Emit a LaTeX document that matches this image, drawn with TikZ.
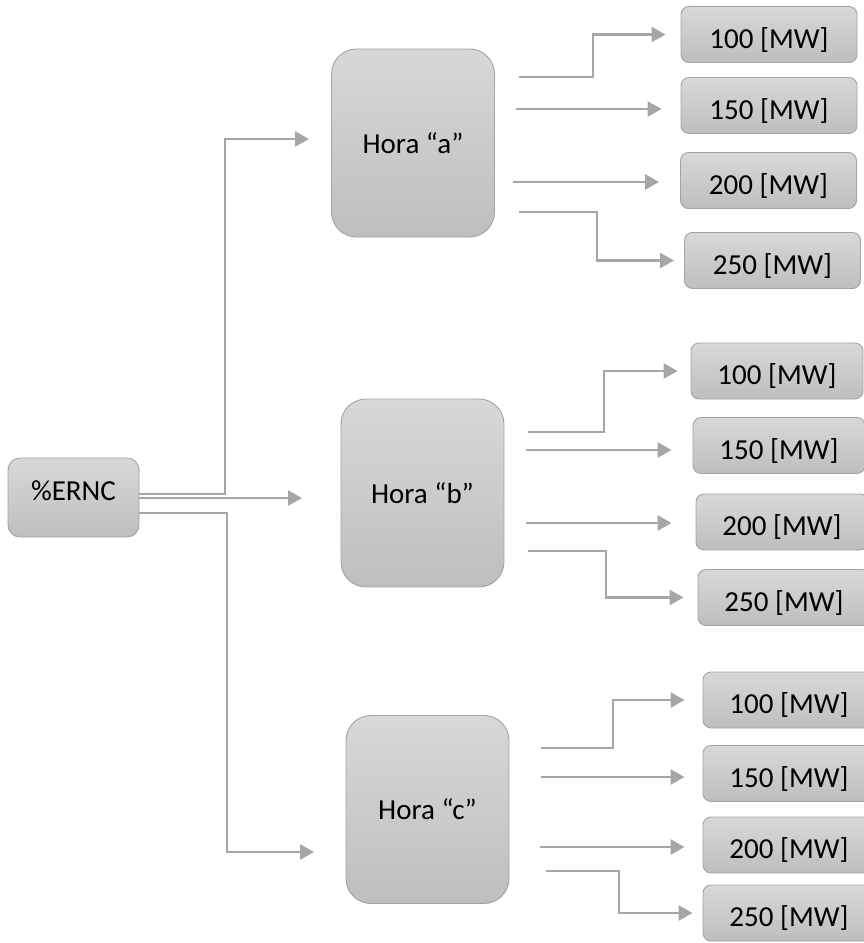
\documentclass[tikz,border=0pt]{standalone}
\usepackage{fontspec}
\setmainfont{Carlito}
\usetikzlibrary{arrows.meta}

\definecolor{linegray}{HTML}{A6A6A6}
\definecolor{boxtop}{HTML}{D8D8D8}
\definecolor{boxbot}{HTML}{BEBEBE}
\definecolor{boxedge}{HTML}{A3A3A3}

\tikzset{
  box/.style={draw=boxedge, line width=0.9pt, top color=boxtop, bottom color=boxbot,
    inner sep=0pt, font=\fontsize{29}{33}\selectfont, text=black},
  srcbox/.style={box, rounded corners=12pt, minimum width=131pt, minimum height=79pt,
    text height=12pt, text depth=7pt},
  hourbox/.style={box, rounded corners=25pt, minimum width=163pt, minimum height=188pt},
  mwbox/.style={box, rounded corners=8pt, minimum width=176pt, minimum height=56pt,
    text height=30pt, text depth=3pt},
  conn/.style={draw=linegray, line width=2.7pt, -{Triangle[length=14pt,width=15pt]}}
}

\begin{document}
\begin{tikzpicture}[x=1pt, y=-1pt]
\useasboundingbox (0,0) rectangle (864,943);

% source and hour boxes
\node[srcbox]  (ernc) at (73.5,497.5) {\%ERNC};
\node[hourbox] (ha) at (413,143)   {Hora “a”};
\node[hourbox] (hb) at (422.5,493) {Hora “b”};
\node[hourbox] (hc) at (427.5,809.5) {Hora “c”};

% power levels for hour a
\node[mwbox] (a100) at (769,34.5)   {100 [MW]};
\node[mwbox] (a150) at (769,105.5)  {150 [MW]};
\node[mwbox] (a200) at (768.5,180.5){200 [MW]};
\node[mwbox] (a250) at (772.5,260.5){250 [MW]};

% power levels for hour b
\node[mwbox, minimum width=172pt] (b100) at (777,371)   {100 [MW]};
\node[mwbox, minimum width=172pt] (b150) at (779,445.5) {150 [MW]};
\node[mwbox, minimum width=172pt] (b200) at (782,522)   {200 [MW]};
\node[mwbox, minimum width=172pt] (b250) at (784,597.5) {250 [MW]};

% power levels for hour c
\node[mwbox, minimum width=172pt] (c100) at (789,700)   {100 [MW]};
\node[mwbox, minimum width=172pt] (c150) at (789,773.5) {150 [MW]};
\node[mwbox, minimum width=172pt] (c200) at (789,845)   {200 [MW]};
\node[mwbox, minimum width=172pt] (c250) at (789,913)   {250 [MW]};

% arrow tips in front of the hour boxes
\coordinate (ta) at (309,139);
\coordinate (tb) at (302,498);
\coordinate (tc) at (314,852);

% branches from %ERNC
\draw[conn] ([yshift=3.5pt]ernc.east) -| (225,139) -- (ta);
\draw[conn] ([yshift=-0.5pt]ernc.east) -- (tb);
\draw[conn] ([yshift=-15.5pt]ernc.east) -| (227,852) -- (tc);

% starting points of the branches right of each hour box
\coordinate (as1) at (519,77);
\coordinate (as2) at (516,109);
\coordinate (as3) at (513,182);
\coordinate (as4) at (519,212);
\coordinate (bs1) at (528,432);
\coordinate (bs2) at (526,450);
\coordinate (bs3) at (526,523);
\coordinate (bs4) at (528,551);
\coordinate (cs1) at (541,748);
\coordinate (cs2) at (541,777);
\coordinate (cs3) at (540,847);
\coordinate (cs4) at (546,871);

% hour a
\draw[conn, shorten >=15pt] (as1) -- (593,77) |- (a100.west);
\draw[conn, shorten >=19pt] (as2) -- (as2 -| a150.west);
\draw[conn, shorten >=21pt] (as3) -- (as3 -| a200.west);
\draw[conn, shorten >=10pt] (as4) -- (597,212) |- (a250.west);

% hour b
\draw[conn, shorten >=13pt] (bs1) -- (604,432) |- (b100.west);
\draw[conn, shorten >=21pt] (bs2) -- (bs2 -| b150.west);
\draw[conn, shorten >=24pt] (bs3) -- (bs3 -| b200.west);
\draw[conn, shorten >=14pt] (bs4) -- (606,551) |- (b250.west);

% hour c
\draw[conn, shorten >=18pt] (cs1) -- (613,748) |- (c100.west);
\draw[conn, shorten >=18pt] (cs2) -- (cs2 -| c150.west);
\draw[conn, shorten >=18pt] (cs3) -- (cs3 -| c200.west);
\draw[conn, shorten >=10pt] (cs4) -- (619,871) |- (c250.west);
\end{tikzpicture}
\end{document}
